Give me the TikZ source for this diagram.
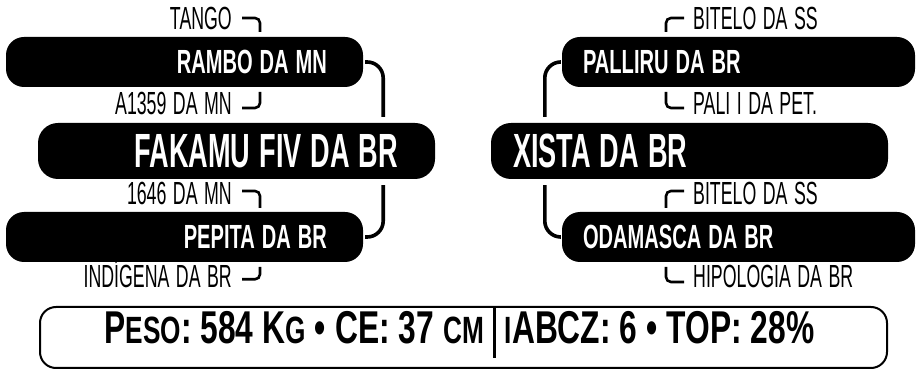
\documentclass[tikz,border=0pt]{standalone}
\usepackage{fontspec}
\setmainfont{Liberation Sans}[FakeStretch=0.555]
\newfontfamily\pillfont{Liberation Sans Bold}[FakeStretch=0.6]
\newfontfamily\bigpillfont{Liberation Sans Bold}[FakeStretch=0.565]
\newfontfamily\barfont{Liberation Sans Bold}[FakeStretch=0.69]
\newcommand\boxsmall{\pillfont\fontsize{33.5}{34}\selectfont\spaceskip=7pt\relax}
\newcommand\boxbig{\bigpillfont\fontsize{48}{48}\selectfont\spaceskip=9pt\relax}
\newcommand\labfont{\fontsize{32}{32}\selectfont\spaceskip=6.5pt\relax}
\newcommand\barbig{\barfont\fontsize{46}{46}\selectfont\spaceskip=9pt\relax}
\newcommand\smc[1]{{\fontsize{38}{38}\selectfont #1}}
\begin{document}
\begin{tikzpicture}[x=1pt,y=-1pt,
  pill/.style={fill=black, rounded corners=18pt, text=white, font=\boxsmall,
    minimum height=50pt, inner ysep=0pt},
  bigpill/.style={pill, minimum height=56pt, rounded corners=20pt, font=\boxbig},
  lab/.style={inner sep=0pt, font=\labfont},
  bracket/.style={line width=2.6pt, rounded corners=5pt},
  link/.style={line width=3.6pt, rounded corners=16pt},
  statbox/.style={draw, line width=2pt, rounded corners=16pt, minimum width=847pt, minimum height=61pt, inner sep=0pt}
]
\useasboundingbox (0,0) rectangle (916,371);

% boxes
\node[pill, inner xsep=36pt, text width=285pt, align=flush right] (rambo) at (184.5,62) {RAMBO DA MN};
\node[pill, inner xsep=36pt, text width=285pt, align=flush right] (pepita) at (184.5,237) {PEPITA DA BR};
\node[bigpill, inner xsep=37pt, text width=323pt, align=flush right] (fakamu) at (236.5,151) {FAKAMU FIV DA BR};
\node[pill, inner xsep=21pt, text width=311pt, align=flush left] (palliru) at (738.5,62) {PALLIRU DA BR};
\node[pill, inner xsep=21pt, text width=311pt, align=flush left] (odamasca) at (738.5,237) {ODAMASCA DA BR};
\node[bigpill, inner xsep=22pt, text width=353pt, align=flush left] (xista) at (689.5,151) {XISTA DA BR};

% labels
\node[lab, anchor=base east] (tango) at (232,30) {TANGO};
\node[lab, anchor=base east] (a1359) at (232,115) {A1359 DA MN};
\node[lab, anchor=base east] (n1646) at (232,205) {1646 DA MN};
\node[lab, anchor=base east] (indigena) at (232,288) {INDÍGENA DA BR};
\node[lab, anchor=base west] (bitelo1) at (693,30) {BITELO DA SS};
\node[lab, anchor=base west] (pali) at (693,115) {PALI I DA PET.};
\node[lab, anchor=base west] (bitelo2) at (693,205) {BITELO DA SS};
\node[lab, anchor=base west] (hipologia) at (693,288) {HIPOLOGIA DA BR};

% bracket ends
\coordinate (tangoEnd) at (260,32);
\coordinate (a1359End) at (260,92);
\coordinate (n1646End) at (260,208);
\coordinate (indigenaEnd) at (260,267);
\coordinate (bitelo1End) at (666,32);
\coordinate (paliEnd) at (666,92);
\coordinate (bitelo2End) at (666,208);
\coordinate (hipologiaEnd) at (666,267);

\draw[bracket] ([xshift=10pt,yshift=1pt]tango.east) -| (tangoEnd);
\draw[bracket] ([xshift=10pt,yshift=-4pt]a1359.east) -| (a1359End);
\draw[bracket] ([xshift=10pt,yshift=3pt]n1646.east) -| (n1646End);
\draw[bracket] ([xshift=10pt,yshift=-5pt]indigena.east) -| (indigenaEnd);
\draw[bracket] ([xshift=-9pt,yshift=1pt]bitelo1.west) -| (bitelo1End);
\draw[bracket] ([xshift=-9pt,yshift=-4pt]pali.west) -| (paliEnd);
\draw[bracket] ([xshift=-9pt,yshift=3pt]bitelo2.west) -| (bitelo2End);
\draw[bracket] ([xshift=-9pt,yshift=-5pt]hipologia.west) -| (hipologiaEnd);

% links
\draw[link] ([xshift=2pt]rambo.east) -| ([xshift=-52pt,yshift=6pt]fakamu.north east);
\draw[link] ([xshift=-52pt,yshift=-6pt]fakamu.south east) |- ([xshift=2pt]pepita.east);
\draw[link] ([xshift=-2pt]palliru.west) -| ([xshift=54pt,yshift=6pt]xista.north west);
\draw[link] ([xshift=54pt,yshift=-6pt]xista.south west) |- ([xshift=-2pt]odamasca.west);

% stats bar
\node[statbox] (statsbox) at (463.5,337.5) {};
\node[inner sep=0pt, font=\barbig] (stats) at (459.5,333)
  {P\smc{ESO}: 584 K\smc{G} • CE: 37 \smc{CM} \rule[-14pt]{3pt}{50pt} \smc{I}ABCZ: 6 • TOP: 28\%};
\end{tikzpicture}
\end{document}
